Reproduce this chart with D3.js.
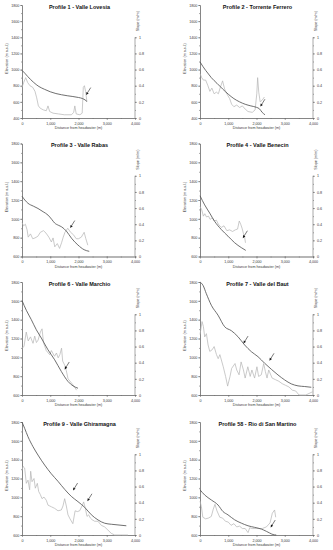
<!DOCTYPE html>
<html>
<head>
<meta charset="utf-8">
<script src="https://cdn.jsdelivr.net/npm/d3@7"></script>
<style>
  body { margin: 0; background: #fff; }
  svg { display: block; font-family: Arial, "Liberation Sans", sans-serif; }
</style>
</head>
<body>
<svg id="chart" width="333" height="550"></svg>
<script>
// ---- data: [distance from headwater (m), value] ----
const titles = [
  "Profile 1 - Valle Lovesia", "Profile 2 - Torrente Ferrero",
  "Profile 3 - Valle Rabas", "Profile 4 - Valle Benecin",
  "Profile 6 - Valle Marchio", "Profile 7 - Valle del Baut",
  "Profile 9 - Valle Ghiramagna", "Profile 58 - Rio di San Martino"
];
const elevationFloor = [400, 400, 600, 600, 600, 600, 600, 600];
const elevationTicks400 = [400, 600, 800, 1000, 1200, 1400, 1600, 1800];
const elevationTicks600 = [600, 800, 1000, 1200, 1400, 1600, 1800];
const distanceTicks = [0, 1000, 2000, 3000, 4000];
const slopeTicks = [0, 0.2, 0.4, 0.6, 0.8, 1];

const p1Elevation = [[0,990],[100,955],[200,915],[300,878],[400,845],[500,815],[600,790],[800,755],[1000,725],[1200,703],[1400,688],[1600,676],[1800,666],[2000,654],[2150,640],[2230,625],[2300,605]];
const p1Slope = [[0,0.38],[60,0.44],[130,0.5],[200,0.44],[280,0.4],[380,0.38],[460,0.33],[520,0.25],[580,0.15],[650,0.12],[760,0.1],[860,0.09],[920,0.15],[980,0.08],[1100,0.06],[1300,0.05],[1500,0.04],[1750,0.04],[1830,0.07],[1870,0.15],[1920,0.05],[2050,0.04],[2130,0.06],[2170,0.38],[2210,0.4],[2250,0.33],[2300,0.2]];
const p1Arrows = [[2270,685]];

const p2Elevation = [[0,1095],[100,1040],[200,990],[300,945],[400,900],[600,830],[800,760],[1000,695],[1200,640],[1400,600],[1600,570],[1800,550],[2000,532],[2100,515],[2200,470],[2300,440]];
const p2Slope = [[0,0.55],[60,0.5],[120,0.47],[200,0.47],[280,0.4],[350,0.33],[420,0.37],[500,0.3],[580,0.32],[650,0.3],[720,0.38],[800,0.46],[870,0.36],[950,0.3],[1050,0.24],[1120,0.17],[1200,0.14],[1300,0.16],[1400,0.13],[1500,0.15],[1600,0.11],[1700,0.08],[1850,0.07],[1950,0.1],[2010,0.3],[2040,0.5],[2080,0.32],[2130,0.2],[2200,0.22],[2280,0.26]];
const p2Arrows = [[2135,541]];

const p3Elevation = [[0,1240],[100,1200],[212,1165],[400,1135],[566,1110],[750,1075],[920,1040],[1050,995],[1157,955],[1300,930],[1400,915],[1570,870],[1750,795],[1980,722],[2200,672],[2380,655]];
const p3Slope = [[0,0.42],[60,0.38],[120,0.4],[180,0.33],[220,0.24],[300,0.28],[380,0.22],[460,0.23],[560,0.25],[650,0.3],[760,0.32],[850,0.29],[950,0.24],[1040,0.18],[1100,0.23],[1160,0.12],[1250,0.16],[1330,0.1],[1400,0.17],[1460,0.24],[1520,0.3],[1620,0.35],[1720,0.3],[1820,0.27],[1920,0.22],[2000,0.22],[2100,0.24],[2200,0.3],[2260,0.22],[2330,0.14]];
const p3Arrows = [[1705,903]];

const p4Elevation = [[0,1245],[165,1148],[343,1061],[519,973],[755,886],[991,816],[1227,746],[1463,694],[1620,665]];
const p4Slope = [[0,0.62],[60,0.58],[120,0.5],[170,0.53],[230,0.49],[300,0.5],[360,0.46],[430,0.48],[500,0.44],[580,0.45],[650,0.4],[750,0.36],[850,0.38],[950,0.32],[1050,0.33],[1150,0.31],[1250,0.33],[1330,0.34],[1390,0.44],[1440,0.4],[1490,0.35],[1540,0.28],[1580,0.24],[1610,0.17]];
const p4Arrows = [[1515,795]];

const p6Elevation = [[0,1603],[153,1500],[330,1400],[507,1293],[684,1205],[920,1080],[1156,974],[1392,850],[1628,744],[1805,697],[1982,672]];
const p6Slope = [[0,0.58],[70,0.6],[150,0.78],[220,0.67],[300,0.72],[390,0.64],[450,0.73],[510,0.65],[570,0.68],[650,0.78],[710,0.82],[760,0.65],[860,0.55],[980,0.5],[1040,0.55],[1150,0.48],[1220,0.52],[1280,0.46],[1340,0.5],[1400,0.58],[1440,0.42],[1510,0.37],[1570,0.3],[1630,0.2],[1750,0.15],[1860,0.1],[1930,0.06]];
const p6Arrows = [[1510,872]];

const p7Elevation = [[0,1800],[106,1765],[224,1676],[401,1553],[637,1448],[873,1325],[1109,1283],[1345,1219],[1581,1131],[1817,1060],[2053,1007],[2289,937],[2525,873],[2761,813],[2997,760],[3232,718],[3469,697],[3705,690],[3940,682]];
const p7Slope = [[0,0.75],[24,0.8],[72,0.91],[119,0.85],[167,0.72],[227,0.76],[286,0.62],[346,0.54],[429,0.56],[501,0.6],[584,0.5],[644,0.45],[704,0.5],[823,0.35],[906,0.23],[978,0.11],[1062,0.23],[1121,0.33],[1240,0.39],[1300,0.31],[1383,0.25],[1455,0.41],[1538,0.31],[1598,0.21],[1693,0.35],[1777,0.23],[1837,0.31],[1932,0.21],[2015,0.35],[2075,0.23],[2170,0.25],[2254,0.39],[2314,0.29],[2373,0.21],[2433,0.31],[2552,0.21],[2671,0.19],[2791,0.17],[2910,0.14],[3029,0.12],[3148,0.1],[3268,0.06],[3387,0.05],[3506,0],[3745,0],[3983,0.04]];
const p7Arrows = [[1538,1147],[2457,964]];

const p9Elevation = [[0,1800],[94,1733],[212,1644],[389,1538],[566,1449],[802,1343],[1038,1250],[1274,1170],[1510,1085],[1746,1010],[1982,954],[2218,894],[2454,815],[2690,760],[2927,725],[3162,714],[3398,707],[3693,698]];
const p9Slope = [[0,0.8],[35,0.85],[94,0.83],[153,0.64],[212,0.68],[271,0.56],[307,0.79],[354,0.66],[425,0.7],[472,0.58],[543,0.64],[590,0.54],[650,0.5],[708,0.45],[779,0.47],[861,0.43],[920,0.37],[1038,0.35],[1156,0.33],[1274,0.3],[1392,0.31],[1451,0.36],[1510,0.45],[1569,0.36],[1628,0.25],[1700,0.2],[1800,0.14],[1880,0.3],[1959,0.29],[2041,0.3],[2124,0.36],[2183,0.41],[2242,0.33],[2301,0.23],[2360,0.25],[2420,0.21],[2478,0.19],[2572,0.17],[2690,0.17],[2808,0.12],[2926,0.1],[3044,0.06],[3162,0.02],[3280,0],[3752,0]];
const p9Arrows = [[1805,1073],[2313,959]];

const p58Elevation = [[0,1080],[165,1025],[401,972],[637,919],[814,849],[991,814],[1227,761],[1463,726],[1699,698],[1935,681],[2171,663],[2348,639],[2466,621],[2584,605],[2700,600]];
const p58Slope = [[0,0.42],[50,0.35],[100,0.22],[200,0.2],[300,0.21],[400,0.23],[470,0.32],[530,0.38],[600,0.3],[700,0.22],[800,0.21],[900,0.17],[1000,0.16],[1100,0.12],[1200,0.14],[1300,0.1],[1400,0.11],[1500,0.08],[1600,0.08],[1700,0.03],[1760,0.09],[1850,0.08],[2000,0.08],[2200,0.08],[2350,0.1],[2480,0.15],[2560,0.27],[2640,0.31],[2680,0.22]];
const p58Arrows = [[2500,680]];

const elevations = [p1Elevation, p2Elevation, p3Elevation, p4Elevation, p6Elevation, p7Elevation, p9Elevation, p58Elevation];
const slopes = [p1Slope, p2Slope, p3Slope, p4Slope, p6Slope, p7Slope, p9Slope, p58Slope];
const arrows = [p1Arrows, p2Arrows, p3Arrows, p4Arrows, p6Arrows, p7Arrows, p9Arrows, p58Arrows];

// ---- layout ----
const colLeft = [22, 200];
const rowTop = [5, 143.5, 282, 422];
const plotW = 113, plotH = 113;
const axisColor = "#6f6f6f", textColor = "#3a3a3a";

const svg = d3.select("#chart");

titles.forEach((title, i) => {
  const g = svg.append("g")
    .attr("transform", `translate(${colLeft[i % 2]},${rowTop[Math.floor(i / 2)]})`);

  const x = d3.scaleLinear().domain([0, 4000]).range([0, plotW]);
  const y = d3.scaleLinear().domain([elevationFloor[i], 1800]).range([plotH, 0]);
  const s = d3.scaleLinear().domain([0, 1.4]).range([plotH, 0]);
  const yTicks = elevationFloor[i] === 400 ? elevationTicks400 : elevationTicks600;

  const styleAxis = (sel) => {
    sel.selectAll("path, line").attr("stroke", axisColor).attr("stroke-width", 0.6);
    sel.selectAll("text").attr("fill", textColor).style("font-size", "3.7px");
  };

  // minor ticks
  g.append("g")
    .call(d3.axisLeft(y).tickValues(d3.range(elevationFloor[i], 1801, 100)).tickSize(1).tickFormat(""))
    .call(styleAxis);
  g.append("g").attr("transform", `translate(0,${plotH})`)
    .call(d3.axisBottom(x).tickValues(d3.range(0, 4001, 500)).tickSize(1).tickFormat(""))
    .call(styleAxis);
  g.append("g").attr("transform", `translate(${plotW},0)`)
    .call(d3.axisRight(s).tickValues(d3.range(0, 1.01, 0.1)).tickSize(1).tickFormat(""))
    .call((a) => a.select(".domain").remove())
    .call(styleAxis);

  // major axes
  g.append("g")
    .call(d3.axisLeft(y).tickValues(yTicks).tickFormat((d) => String(d)).tickSize(2).tickSizeOuter(0).tickPadding(0.6))
    .call(styleAxis);
  g.append("g").attr("transform", `translate(0,${plotH})`)
    .call(d3.axisBottom(x).tickValues(distanceTicks).tickFormat(d3.format(",")).tickSize(2).tickSizeOuter(0).tickPadding(2.2))
    .call(styleAxis);
  g.append("g").attr("transform", `translate(${plotW},0)`)
    .call(d3.axisRight(s).tickValues(slopeTicks).tickFormat((d) => String(d)).tickSize(2).tickPadding(2))
    .call((a) => a.select(".domain").remove())
    .call(styleAxis);
  g.append("line")
    .attr("x1", plotW).attr("x2", plotW)
    .attr("y1", s(0)).attr("y2", s(1))
    .attr("stroke", axisColor).attr("stroke-width", 0.6);

  // axis titles
  g.append("text")
    .attr("x", plotW / 2).attr("y", plotH + 11)
    .attr("text-anchor", "middle").attr("fill", textColor)
    .style("font-size", "3.7px")
    .text("Distance from headwater (m)");
  g.append("text")
    .attr("transform", `translate(-14.2,${plotH / 2 - 3}) rotate(-90)`)
    .attr("text-anchor", "middle").attr("fill", textColor)
    .style("font-size", "3.7px")
    .text("Elevation (m a.s.l.)");
  g.append("text")
    .attr("transform", `translate(${plotW + 3.9},${s(1.2)}) rotate(-90)`)
    .attr("text-anchor", "middle").attr("fill", textColor)
    .style("font-size", "3.7px")
    .text("Slope (m/m)");

  // title
  g.append("text")
    .attr("x", plotW / 2 + 1).attr("y", 3.6)
    .attr("text-anchor", "middle").attr("fill", "#111")
    .style("font-size", "5.5px").style("font-weight", "bold")
    .text(title);

  // slope line (light)
  g.append("path")
    .datum(slopes[i])
    .attr("fill", "none").attr("stroke", "#b3b3b3").attr("stroke-width", 0.7)
    .attr("d", d3.line().x((d) => x(d[0])).y((d) => s(d[1])));

  // elevation profile (dark)
  g.append("path")
    .datum(elevations[i])
    .attr("fill", "none").attr("stroke", "#555").attr("stroke-width", 0.85)
    .attr("d", d3.line().curve(d3.curveMonotoneX).x((d) => x(d[0])).y((d) => y(d[1])));

  // arrows marking the points of interest
  arrows[i].forEach(([dist, elev]) => {
    const tx = x(dist), ty = y(elev);
    const fx = tx + 4.6, fy = ty - 7.4;
    const len = Math.hypot(tx - fx, ty - fy);
    const ux = (tx - fx) / len, uy = (ty - fy) / len;
    const bx = tx - ux * 2.8, by = ty - uy * 2.8;
    g.append("line")
      .attr("x1", fx).attr("y1", fy).attr("x2", bx).attr("y2", by)
      .attr("stroke", "#222").attr("stroke-width", 0.6);
    g.append("path")
      .attr("d", `M${tx},${ty}L${bx - uy * 1.3},${by + ux * 1.3}L${bx + uy * 1.3},${by - ux * 1.3}Z`)
      .attr("fill", "#111");
  });
});
</script>
</body>
</html>
